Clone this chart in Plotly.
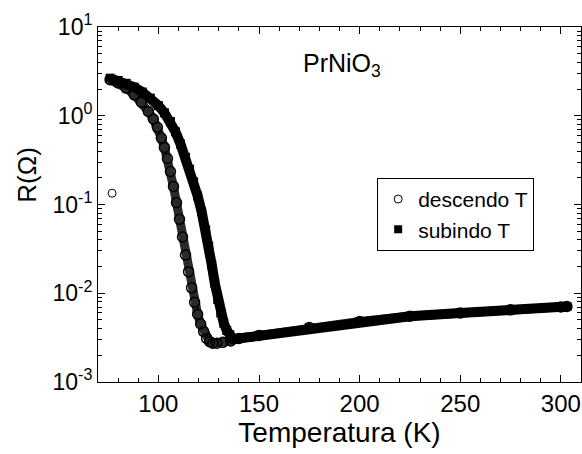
import plotly.graph_objects as go

# ---- data ----
desc_T = [76, 80, 84, 88, 91.5, 95, 97.5, 99.5, 101.5, 103, 104.5, 106, 107.5, 109, 110.5,
          112, 113.5, 115, 116.5, 118, 119.5, 121, 122.5, 124, 125.5, 127, 129, 132, 136,
          140, 150, 175, 200, 225, 250, 275, 300, 303]
desc_R = [2.55, 2.35, 2.05, 1.72, 1.42, 1.12, 0.92, 0.74, 0.56, 0.44, 0.33, 0.235, 0.16,
          0.105, 0.068, 0.043, 0.027, 0.0175, 0.0115, 0.0079, 0.0058, 0.0045, 0.0037,
          0.0031, 0.00285, 0.00273, 0.00274, 0.0028, 0.0029, 0.0031, 0.00335, 0.0041,
          0.0048, 0.0055, 0.0060, 0.0065, 0.0070, 0.0071]

desc_outlier_T = [77]
desc_outlier_R = [0.134]

asc_T = [76, 80, 84, 88, 92, 96, 100, 103, 106, 108.5, 111, 113.5, 115.5, 117.5, 119.5,
         121.5, 123.5, 125, 126.5, 128, 129.5, 131, 132.5, 134, 135.5, 137, 140, 145, 150,
         175, 200, 225, 250, 275, 300, 303]
asc_R = [2.65, 2.5, 2.32, 2.1, 1.85, 1.58, 1.3, 1.08, 0.86, 0.66, 0.48, 0.34, 0.25, 0.18,
         0.125, 0.083, 0.052, 0.034, 0.021, 0.013, 0.0085, 0.006, 0.0046, 0.0038, 0.0034,
         0.00308, 0.0031, 0.0032, 0.00335, 0.0041, 0.0048, 0.0055, 0.0060, 0.0065, 0.0070,
         0.0071]

x_ticks = [100, 150, 200, 250, 300]
x_minor = [80, 90, 110, 120, 130, 140, 160, 170, 180, 190, 210, 220, 230, 240, 260, 270,
           280, 290, 310]
y_ticks = [1e-3, 1e-2, 1e-1, 1e0, 1e1]
y_ticktext = ["10<sup>-3</sup>", "10<sup>-2</sup>", "10<sup>-1</sup>", "10<sup>0</sup>",
              "10<sup>1</sup>"]
y_minor = [m * 10.0 ** e for e in range(-3, 1) for m in range(2, 10)]

FONT = "Liberation Sans, Arial, sans-serif"

fig = go.Figure()

# descending branch (open circles, dense band)
fig.add_trace(go.Scatter(
    x=desc_T, y=desc_R, mode="lines+markers", showlegend=False,
    line=dict(color="#2a2a2a", width=9),
    marker=dict(symbol="circle-open", size=10, color="black", line=dict(width=1.5)),
))
fig.add_trace(go.Scatter(
    x=desc_outlier_T, y=desc_outlier_R, mode="markers", showlegend=False,
    marker=dict(symbol="circle-open", size=8, color="black", line=dict(width=1)),
))
# ascending branch (filled squares, dense band)
fig.add_trace(go.Scatter(
    x=asc_T, y=asc_R, mode="lines+markers", showlegend=False,
    line=dict(color="black", width=10),
    marker=dict(symbol="square", size=9, color="black"),
))

# legend entries
fig.add_trace(go.Scatter(
    x=[None], y=[None], mode="markers", name="descendo T",
    marker=dict(symbol="circle-open", size=8, color="black", line=dict(width=1)),
))
fig.add_trace(go.Scatter(
    x=[None], y=[None], mode="markers", name="subindo T",
    marker=dict(symbol="square", size=8, color="black"),
))

axis_common = dict(
    showline=True, linecolor="black", linewidth=1, mirror="ticks",
    ticks="inside", ticklen=7, tickwidth=1, tickcolor="black",
    showgrid=False, zeroline=False,
)

fig.update_xaxes(
    range=[70, 310], tickmode="array", tickvals=x_ticks,
    tickfont=dict(family=FONT, size=24, color="black"),
    title=dict(text="Temperatura (K)", font=dict(family=FONT, size=28, color="black"),
               standoff=3),
    minor=dict(tickmode="array", tickvals=x_minor, ticks="inside", ticklen=4,
               tickcolor="black", tickwidth=1, showgrid=False),
    **axis_common,
)
fig.update_yaxes(
    type="log", range=[-3, 1], tickmode="array", tickvals=y_ticks, ticktext=y_ticktext,
    tickfont=dict(family=FONT, size=23, color="black"),
    minor=dict(tickmode="array", tickvals=y_minor, ticks="inside", ticklen=4,
               tickcolor="black", tickwidth=1, showgrid=False),
    **axis_common,
)

fig.update_layout(
    width=582, height=454,
    margin=dict(l=98, r=1, t=27, b=72, autoexpand=False),
    paper_bgcolor="white", plot_bgcolor="white",
    font=dict(family=FONT, color="black"),
    legend=dict(
        x=0.578, y=0.575, xanchor="left", yanchor="top",
        bordercolor="black", borderwidth=1, bgcolor="white",
        font=dict(family=FONT, size=21, color="black"),
        tracegroupgap=0,
    ),
    annotations=[
        dict(text="R(Ω)", xref="paper", yref="paper", x=-0.147, y=0.584,
             xanchor="center", yanchor="middle", textangle=-90, showarrow=False,
             font=dict(family=FONT, size=26, color="black")),
        dict(text="PrNiO<sub>3</sub>", xref="paper", yref="paper", x=0.505, y=0.945,
             xanchor="center", yanchor="top", showarrow=False,
             font=dict(family=FONT, size=25, color="black")),
    ],
)

fig.write_html("out.html")
